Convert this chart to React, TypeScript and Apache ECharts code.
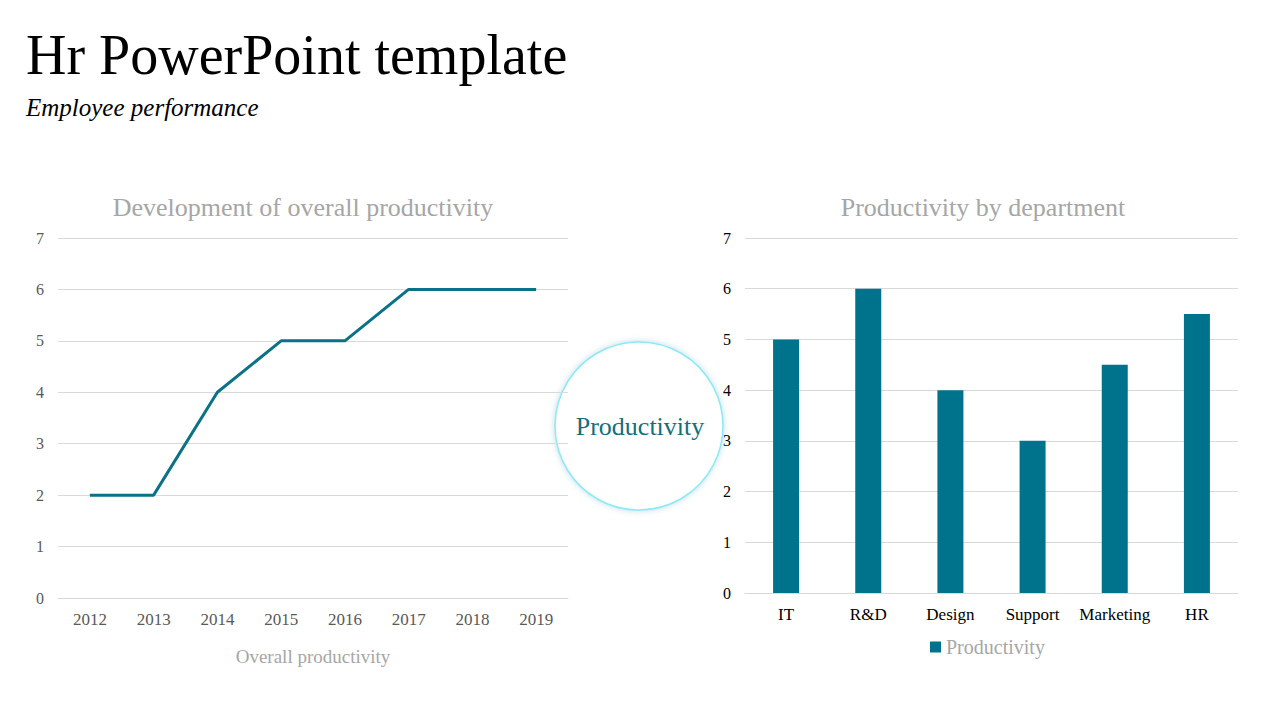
import React, { useEffect, useRef } from "react";
import * as echarts from "echarts";

const years = ["2012", "2013", "2014", "2015", "2016", "2017", "2018", "2019"];
const overallProductivity = [2, 2, 4, 5, 5, 6, 6, 6];
const departments = ["IT", "R&D", "Design", "Support", "Marketing", "HR"];
const deptProductivity = [5, 6, 4, 3, 4.5, 5.5];

const SERIF = "'Liberation Serif', 'DejaVu Serif', serif";
const TEAL = "#0a7189";

export default function App() {
  const ref = useRef<HTMLDivElement>(null);
  useEffect(() => {
    if (!ref.current) return;
    const chart = echarts.init(ref.current, undefined, { renderer: "svg" });
    chart.setOption({
      animation: false,
      backgroundColor: "#ffffff",
      textStyle: { fontFamily: SERIF },
      title: [
        {
          text: "Hr PowerPoint template",
          left: 26,
          top: 27,
          padding: 0,
          textStyle: { fontFamily: SERIF, fontSize: 56, fontWeight: "normal", color: "#000" },
        },
        {
          text: "Employee performance",
          left: 26,
          top: 95,
          padding: 0,
          textStyle: { fontFamily: SERIF, fontSize: 25, fontStyle: "italic", fontWeight: "normal", color: "#000" },
        },
        {
          text: "Development of overall productivity",
          left: 303,
          top: 194,
          padding: 0,
          textAlign: "center",
          textStyle: { fontFamily: SERIF, fontSize: 26, fontWeight: "normal", color: "#a6a6a6" },
        },
        {
          text: "Productivity by department",
          left: 983,
          top: 194,
          padding: 0,
          textAlign: "center",
          textStyle: { fontFamily: SERIF, fontSize: 26, fontWeight: "normal", color: "#a6a6a6" },
        },
      ],
      legend: {
        data: [{ name: "Productivity", icon: "rect" }],
        left: 930,
        top: 637,
        padding: 0,
        itemWidth: 11,
        itemHeight: 11,
        itemGap: 6,
        textStyle: { fontFamily: SERIF, fontSize: 20, color: "#a6a6a6" },
      },
      grid: [
        { left: 58, top: 238, width: 510, height: 360 },
        { left: 745, top: 238, width: 493, height: 355 },
      ],
      xAxis: [
        {
          type: "category",
          gridIndex: 0,
          data: years,
          boundaryGap: true,
          axisLine: { show: true, lineStyle: { color: "#d9d9d9" } },
          axisTick: { show: false },
          axisLabel: { color: "#595959", fontFamily: SERIF, fontSize: 17, margin: 13, interval: 0 },
          name: "Overall productivity",
          nameLocation: "middle",
          nameGap: 49,
          nameTextStyle: { color: "#a6a6a6", fontFamily: SERIF, fontSize: 19 },
        },
        {
          type: "category",
          gridIndex: 1,
          data: departments,
          axisLine: { show: true, lineStyle: { color: "#d9d9d9" } },
          axisTick: { show: false },
          axisLabel: { color: "#000", fontFamily: SERIF, fontSize: 17, margin: 13, interval: 0 },
        },
      ],
      yAxis: [
        {
          type: "value",
          gridIndex: 0,
          min: 0,
          max: 7,
          interval: 1,
          axisLine: { show: false },
          axisTick: { show: false },
          splitLine: { lineStyle: { color: "#d9d9d9" } },
          axisLabel: { color: "#595959", fontFamily: SERIF, fontSize: 16, margin: 14 },
        },
        {
          type: "value",
          gridIndex: 1,
          min: 0,
          max: 7,
          interval: 1,
          axisLine: { show: false },
          axisTick: { show: false },
          splitLine: { lineStyle: { color: "#d9d9d9" } },
          axisLabel: { color: "#000", fontFamily: SERIF, fontSize: 16, margin: 14 },
        },
      ],
      series: [
        {
          name: "Overall productivity",
          type: "line",
          xAxisIndex: 0,
          yAxisIndex: 0,
          data: overallProductivity,
          showSymbol: false,
          lineStyle: { color: TEAL, width: 3 },
          itemStyle: { color: TEAL },
        },
        {
          name: "Productivity",
          type: "bar",
          xAxisIndex: 1,
          yAxisIndex: 1,
          data: deptProductivity,
          barWidth: 26,
          itemStyle: { color: "#00738c" },
        },
      ],
      graphic: [
        {
          type: "circle",
          shape: { cx: 639, cy: 426, r: 84 },
          style: {
            fill: "#ffffff",
            stroke: "#8de9f7",
            lineWidth: 1.5,
            shadowBlur: 6,
            shadowColor: "rgba(150,200,210,0.6)",
          },
        },
        {
          type: "text",
          x: 640,
          y: 426,
          style: {
            text: "Productivity",
            fontFamily: SERIF,
            fontSize: 26,
            fill: "#136f7c",
            align: "center",
            verticalAlign: "middle",
          },
        },
      ],
    });
    return () => chart.dispose();
  }, []);
  return <div ref={ref} style={{ position: "fixed", left: 0, top: 0, width: 1280, height: 720 }} />;
}
